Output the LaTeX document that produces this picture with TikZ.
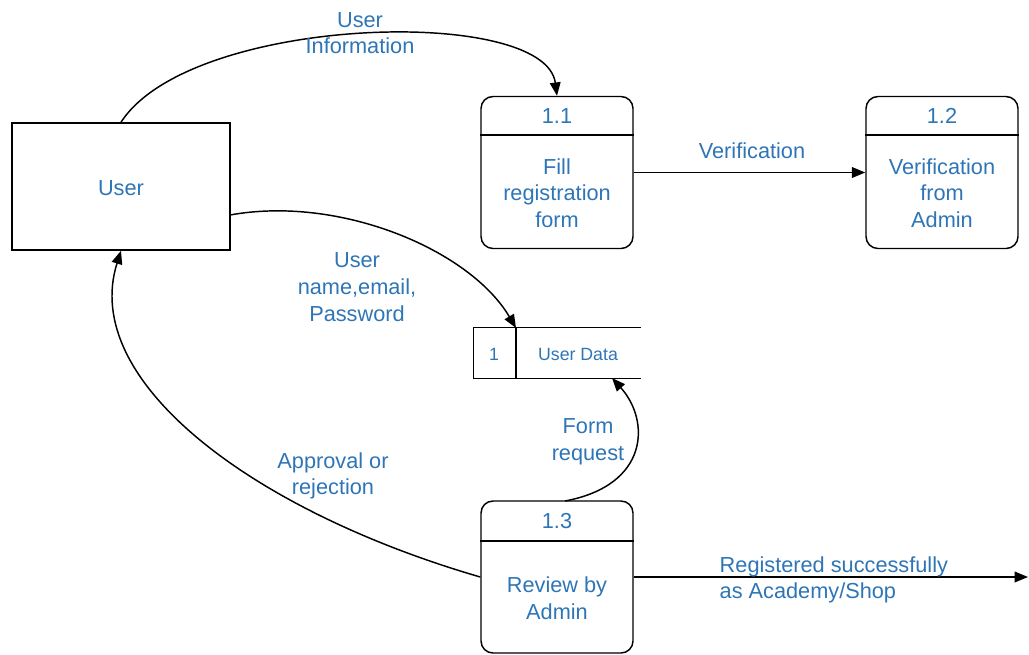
\documentclass[tikz,border=0pt]{standalone}
\usepackage{fontspec}
\setmainfont{Liberation Sans}
\usetikzlibrary{arrows.meta,calc}
\definecolor{txtblue}{RGB}{46,117,182}
\begin{document}
\begin{tikzpicture}[x=0.75pt,y=-0.75pt,
  line width=1.1pt,
  txt/.style={text=txtblue,font=\fontsize{16.3}{20}\selectfont,align=center,inner sep=0pt},
  small/.style={text=txtblue,font=\fontsize{13.3}{16}\selectfont,inner sep=0pt},
  proc/.style={draw,rounded corners=9pt,minimum width=114pt,minimum height=114pt,inner sep=0pt},
  ext/.style={draw,minimum width=163.5pt,minimum height=95.25pt,inner sep=0pt},
  flow/.style={-{Triangle[length=10pt,width=8pt]}}]
\useasboundingbox (0,0) rectangle (1029,654);

% external entity
\node[ext] (user) at (121,186.5) {};
\node[txt] (userlbl) at (121,188) {User};

% processes
\node[proc] (p11) at (557,172.5) {};
\draw (p11.north west |- 0,135) -- (p11.north east |- 0,135);
\node[txt] (p11id) at (557,116) {1.1};
\node[txt] (p11tx) at (557,193) {Fill\\registration\\form};

\node[proc] (p12) at (942,172.5) {};
\draw (p12.north west |- 0,135) -- (p12.north east |- 0,135);
\node[txt] (p12id) at (942,116) {1.2};
\node[txt] (p12tx) at (942,193) {Verification\\from\\Admin};

\node[proc] (p13) at (557,577) {};
\draw (p13.north west |- 0,541) -- (p13.north east |- 0,541);
\node[txt] (p13id) at (557,521) {1.3};
\node[txt] (p13tx) at (557,598) {Review by\\Admin};

% data store
\node[minimum width=124.5pt,minimum height=37.5pt,inner sep=0pt] (ds) at (557,353) {};
\draw (ds.north east) -- (ds.north west) -- (ds.south west) -- (ds.south east);
\draw (516,328) -- (516,378);
\node[small] (dsid) at (494,354) {1};
\node[small] (dsname) at (578,354) {User Data};
\coordinate (dstop) at (516,328);
\coordinate (dsbot) at (612,378);
\coordinate (out) at (1028,577);

% flows
\draw[flow] (user.north) .. controls (190,15) and (545,5) .. (p11.north);
\node[txt] (l1) at (360,33) {User\\Information};

\draw[flow] (p11.east) -- (p12.west);
\node[txt] (l2) at (752,151) {Verification};

\draw[flow] (230,215) .. controls (340,195) and (470,250) .. (dstop);
\node[txt] (l3) at (357,287) {User\\name,email,\\Password};

\draw[flow] (565,501) .. controls (650,485) and (650,420) .. (dsbot);
\node[txt] (l4) at (588,442) {Form\\request};

\draw[flow] (p13.west) .. controls (250,510) and (80,380) .. (user.south);
\node[txt] (l5) at (333,476) {Approval or\\rejection};

\draw[flow] (p13.east) -- (out);
\node[txt,align=left,anchor=west] (l6) at (719,580) {Registered successfully\\as Academy/Shop};
\end{tikzpicture}
\end{document}
